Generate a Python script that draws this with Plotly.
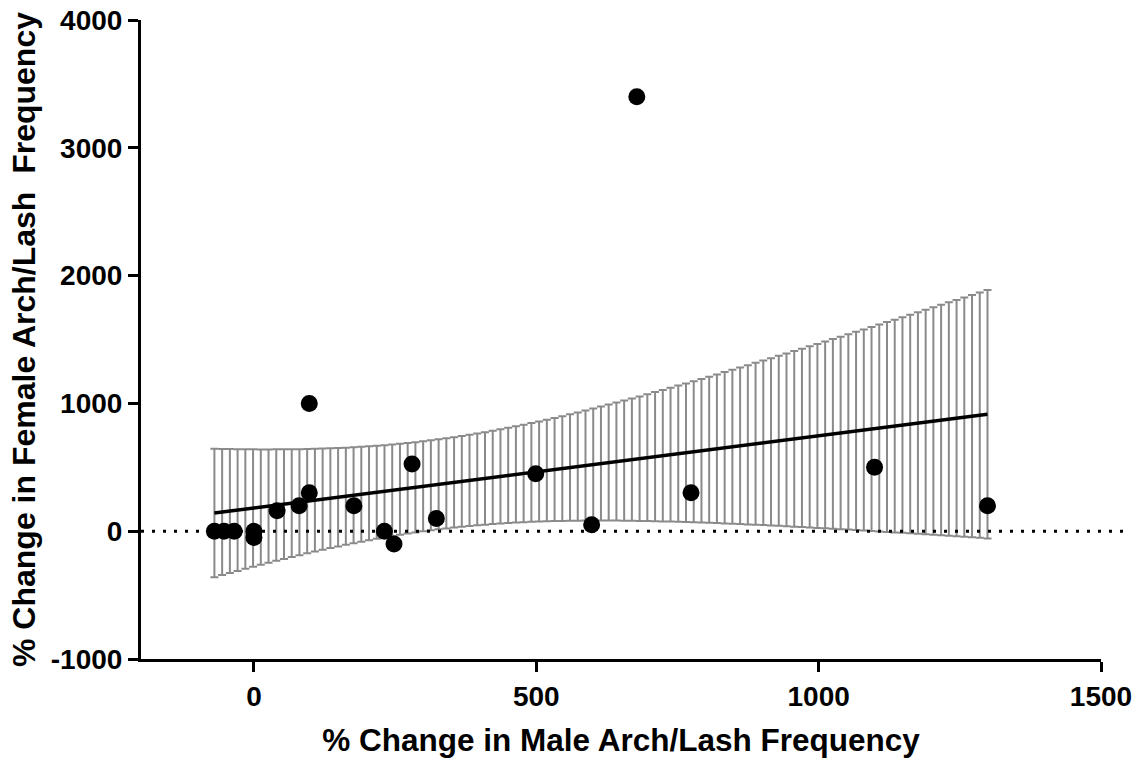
import numpy as np
import plotly.graph_objects as go

# Data
male_change = [-70, -53, -35, 0, 0, 41, 80, 98, 98, 177, 231, 248, 280, 323, 499, 598, 678, 774, 1099, 1299]
female_change = [0, 0, 0, 0, -50, 160, 200, 300, 1000, 200, 0, -100, 525, 100, 450, 50, 3400, 300, 500, 200]

x_ticks = [0, 500, 1000, 1500]
y_ticks = [-1000, 0, 1000, 2000, 3000, 4000]
x_title = "% Change in Male Arch/Lash Frequency"
y_title = "% Change in Female Arch/Lash  Frequency"

# Linear regression with 95% confidence band
x = np.array(male_change, dtype=float)
y = np.array(female_change, dtype=float)
n = len(x)
slope, intercept = np.polyfit(x, y, 1)
resid = y - (slope * x + intercept)
s = np.sqrt(np.sum(resid ** 2) / (n - 2))
xm = x.mean()
sxx = np.sum((x - xm) ** 2)
t_crit = 2.1009  # t(0.975, df=18)

xf = np.linspace(x.min(), x.max(), 101)
yf = slope * xf + intercept
half = t_crit * s * np.sqrt(1.0 / n + (xf - xm) ** 2 / sxx)

FONT = "Liberation Sans, Arial, sans-serif"
GRAY = "#8a8a8a"

fig = go.Figure()

# confidence band drawn as vertical hatching (error bars)
fig.add_trace(go.Scatter(
    x=xf, y=yf, mode="markers",
    marker=dict(size=0.1, color="rgba(0,0,0,0)"),
    error_y=dict(type="data", symmetric=True, array=half,
                 color=GRAY, thickness=2, width=4),
    hoverinfo="skip", showlegend=False,
))

# regression line
fig.add_trace(go.Scatter(
    x=xf, y=yf, mode="lines",
    line=dict(color="black", width=3.5),
    showlegend=False,
))

# data points
fig.add_trace(go.Scatter(
    x=male_change, y=female_change, mode="markers",
    marker=dict(size=17, color="black", line=dict(width=0)),
    showlegend=False,
))

# dotted zero line
fig.add_shape(type="line", xref="paper", yref="y", x0=0, x1=1.03, y0=0, y1=0,
              line=dict(color="black", width=3, dash="3px,8px"), layer="above")

axis_common = dict(
    showline=True, linecolor="black", linewidth=3,
    ticks="outside", ticklen=10, tickwidth=3, tickcolor="black",
    showgrid=False, zeroline=False, automargin=False,
    ticklabeloverflow="allow",
    tickfont=dict(family=FONT, size=28, color="black", weight="bold"),
)

fig.update_xaxes(
    range=[-200, 1500], tickvals=x_ticks, ticktext=[str(v) for v in x_ticks],
    title=dict(text=x_title, font=dict(family=FONT, size=31.5, color="black", weight="bold"),
               standoff=19),
    **axis_common,
)
fig.update_yaxes(
    range=[-1000, 4000], tickvals=y_ticks, ticktext=[str(v) for v in y_ticks],
    title=dict(text=y_title, font=dict(family=FONT, size=32, color="black", weight="bold"),
               standoff=6),
    **axis_common,
)

fig.update_layout(
    width=1147, height=760,
    margin=dict(l=141, r=46, t=20, b=101),
    plot_bgcolor="white", paper_bgcolor="white",
    showlegend=False,
)

# remove the default page margin so the figure fills the window exactly
fig.write_html(
    "out.html",
    config={"displayModeBar": False},
    post_script="document.body.style.margin='0';document.body.style.overflow='hidden';",
)
